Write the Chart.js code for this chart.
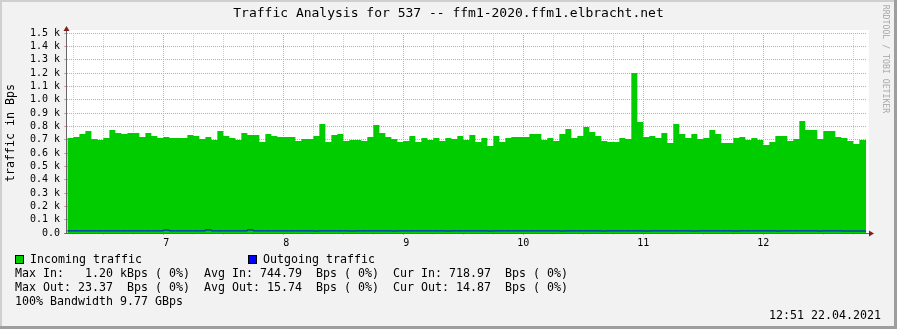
<!DOCTYPE html>
<html><head><meta charset="utf-8">
<script src="https://cdn.jsdelivr.net/npm/chart.js@4"></script>
<style>
html,body{margin:0;padding:0;background:#f2f2f2;}
#wrap{position:relative;width:897px;height:329px;background:#f2f2f2;overflow:hidden;font-family:'DejaVu Sans Mono',monospace;color:#000;}
#c{position:absolute;left:0;top:0;}
.t{position:absolute;white-space:pre;font-size:11.63px;line-height:14px;}
.bt{position:absolute;left:0;top:0;width:897px;height:2px;background:#cfcfcf;}
.bl{position:absolute;left:0;top:0;width:2px;height:329px;background:#cfcfcf;}
.bb{position:absolute;left:0;bottom:0;width:897px;height:3px;background:#9e9e9e;}
.br{position:absolute;right:0;top:0;width:3px;height:329px;background:#9e9e9e;}
.sw{position:absolute;width:7px;height:7px;border:1px solid #000;}
</style></head>
<body>
<div id="wrap">
<canvas id="c" width="897" height="329"></canvas>
<div class="t" style="left:0;top:5px;width:897px;text-align:center;font-size:13px;line-height:16px;">Traffic Analysis for 537 -- ffm1-2020.ffm1.elbracht.net</div>
<div class="t" style="left:-90px;top:126px;width:200px;text-align:center;transform:rotate(-90deg);">traffic in Bps</div>
<div class="t" style="left:811px;top:54px;width:150px;text-align:center;transform:rotate(90deg);font-size:8.2px;line-height:10px;color:#a8a8a8;">RRDTOOL / TOBI OETIKER</div>
<div class="sw" style="left:15px;top:255px;background:#00cc00;"></div>
<div class="t" style="left:30px;top:252px;">Incoming traffic</div>
<div class="sw" style="left:248px;top:255px;background:#0000ff;"></div>
<div class="t" style="left:263px;top:252px;">Outgoing traffic</div>
<div class="t" style="left:15px;top:266px;">Max In:   1.20 kBps ( 0%)  Avg In: 744.79  Bps ( 0%)  Cur In: 718.97  Bps ( 0%)</div>
<div class="t" style="left:15px;top:280px;">Max Out: 23.37  Bps ( 0%)  Avg Out: 15.74  Bps ( 0%)  Cur Out: 14.87  Bps ( 0%)</div>
<div class="t" style="left:15px;top:294px;">100% Bandwidth 9.77 GBps</div>
<div class="t" style="left:769px;top:308px;">12:51 22.04.2021</div>
<div class="bt"></div><div class="bl"></div><div class="bb"></div><div class="br"></div>
</div>
<script>
// time axis in days of month; bins of 0.05 day
const binStart = 6.2;
const binDays = 0.05;
const dataEnd = 12.857;
const xMin = 6.197;
const xMax = 12.864;

const incoming = [
  705,712,720,742,765,705,698,712,772,750,
  742,750,750,720,750,727,712,720,712,712,
  712,735,727,705,720,698,765,727,712,698,
  750,735,735,682,742,727,720,720,720,690,
  705,705,727,817,682,735,742,690,697,697,
  690,720,810,750,720,705,682,690,727,682,
  712,697,712,690,712,705,727,697,735,682,
  712,652,727,682,712,720,720,720,742,742,
  697,712,690,742,780,712,727,795,757,727,
  690,682,682,712,705,1200,832,720,727,712,
  750,675,817,742,712,742,705,712,772,742,
  675,675,712,720,697,712,697,660,682,727,
  727,690,705,840,772,772,705,765,765,720,
  712,690,667,697
];
const outgoing = [
  16,16,16,16,16,16,16,16,16,16,
  16,16,16,16,16,16,16,22,16,16,
  16,16,16,16,23,16,16,16,16,16,
  16,23,16,16,16,16,16,16,16,16,
  16,16,15,16,16,16,16,16,15,16,
  16,16,16,16,16,15,16,16,16,16,
  16,16,16,16,15,16,16,16,16,16,
  16,15,16,16,16,16,16,16,16,16,
  16,16,16,15,16,16,16,16,16,16,
  15,16,16,16,16,16,16,15,16,16,
  16,16,16,16,16,15,16,16,16,16,
  16,16,15,16,16,16,16,16,16,15,
  16,16,16,16,16,16,15,16,16,16,
  15,15,15,15
];

const dayTickValues = [7, 8, 9, 10, 11, 12];
const dayTickLabels = [' 7', ' 8', ' 9', '10', '11', '12'];
const yTickValues = [0,100,200,300,400,500,600,700,800,900,1000,1100,1200,1300,1400,1500];
const yTickLabels = ['0.0','0.1 k','0.2 k','0.3 k','0.4 k','0.5 k','0.6 k','0.7 k','0.8 k','0.9 k','1.0 k','1.1 k','1.2 k','1.3 k','1.4 k','1.5 k'];

function toPoints(vals){
  const pts = vals.map((v,i)=>({x: binStart + i*binDays, y: v}));
  pts.push({x: dataEnd, y: vals[vals.length-1]});
  return pts;
}

const majorGrid = '#e69a9a';
const minorGrid = '#cfcfcf';
const axisColor = '#666';
const arrowColor = '#801f1f';

const rrdPlugin = {
  id: 'rrd',
  beforeDraw(chart){
    const {ctx, chartArea:a} = chart;
    ctx.save();
    ctx.fillStyle = '#ffffff';
    ctx.fillRect(a.left, a.top-3, a.right-a.left+2, a.bottom-a.top+3);
    ctx.restore();
  },
  afterDraw(chart){
    const {ctx, chartArea:a} = chart;
    const ax = Math.round(a.left) - 0.5;
    const ay = Math.round(a.bottom) + 0.5;
    ctx.save();
    ctx.strokeStyle = axisColor; ctx.lineWidth = 1;
    ctx.beginPath();
    ctx.moveTo(ax, ay); ctx.lineTo(ax, a.top - 3);
    ctx.moveTo(ax - 2, ay); ctx.lineTo(a.right + 3, ay);
    ctx.stroke();
    ctx.fillStyle = arrowColor;
    ctx.beginPath();
    ctx.moveTo(ax, a.top - 7); ctx.lineTo(ax - 3, a.top - 2); ctx.lineTo(ax + 3, a.top - 2); ctx.closePath(); ctx.fill();
    ctx.beginPath();
    ctx.moveTo(a.right + 7, ay); ctx.lineTo(a.right + 2, ay - 3); ctx.lineTo(a.right + 2, ay + 3); ctx.closePath(); ctx.fill();
    ctx.restore();
  }
};

function isDay(v){ return Math.abs(v - Math.round(v)) < 1e-6; }

Chart.defaults.font.family = "'DejaVu Sans Mono', monospace";
Chart.defaults.color = '#000';

new Chart(document.getElementById('c'), {
  type: 'line',
  data: {
    datasets: [
      {
        label: 'Outgoing traffic',
        data: toPoints(outgoing),
        stepped: 'after',
        borderColor: '#0000ff',
        borderWidth: 1,
        pointRadius: 0,
        fill: false,
        order: 0
      },
      {
        label: 'Incoming traffic',
        data: toPoints(incoming),
        stepped: 'after',
        borderColor: 'rgba(0,0,0,0)',
        borderWidth: 0,
        backgroundColor: '#00cc00',
        pointRadius: 0,
        fill: 'origin',
        order: 1
      }
    ]
  },
  options: {
    responsive: false,
    animation: false,
    devicePixelRatio: 1,
    layout: { padding: { left: 0, top: 33, right: 30, bottom: 76 } },
    plugins: { legend: { display: false }, tooltip: { enabled: false }, title: { display: false } },
    scales: {
      x: {
        type: 'linear',
        min: xMin, max: xMax,
        afterFit(s){ s.height = 20; },
        afterBuildTicks(s){
          const t = [];
          for (let d = Math.ceil(xMin*4)/4; d <= xMax + 1e-9; d += 0.25) t.push({value: d});
          s.ticks = t;
        },
        ticks: {
          autoSkip: false, maxRotation: 0, padding: 2,
          font: { size: 10 },
          callback(v){ const k = dayTickValues.findIndex(d => Math.abs(d - v) < 1e-6); return k >= 0 ? dayTickLabels[k] : ''; }
        },
        grid: {
          color: c => (c.tick && isDay(c.tick.value)) ? majorGrid : minorGrid,
          tickColor: c => (c.tick && isDay(c.tick.value)) ? majorGrid : minorGrid,
          tickLength: 2, lineWidth: 1
        },
        border: { display: false, dash: [1,1] }
      },
      y: {
        type: 'linear',
        min: 0, max: 1500,
        afterFit(s){ s.width = 67; },
        afterBuildTicks(s){ s.ticks = yTickValues.map(v => ({value: v})); },
        ticks: {
          autoSkip: false, padding: 4, font: { size: 10 },
          callback(v, i){ return yTickLabels[i]; }
        },
        grid: { color: majorGrid, tickColor: majorGrid, tickLength: 3, lineWidth: 1 },
        border: { display: false, dash: [1,1] }
      }
    }
  },
  plugins: [rrdPlugin]
});
</script>
</body></html>
